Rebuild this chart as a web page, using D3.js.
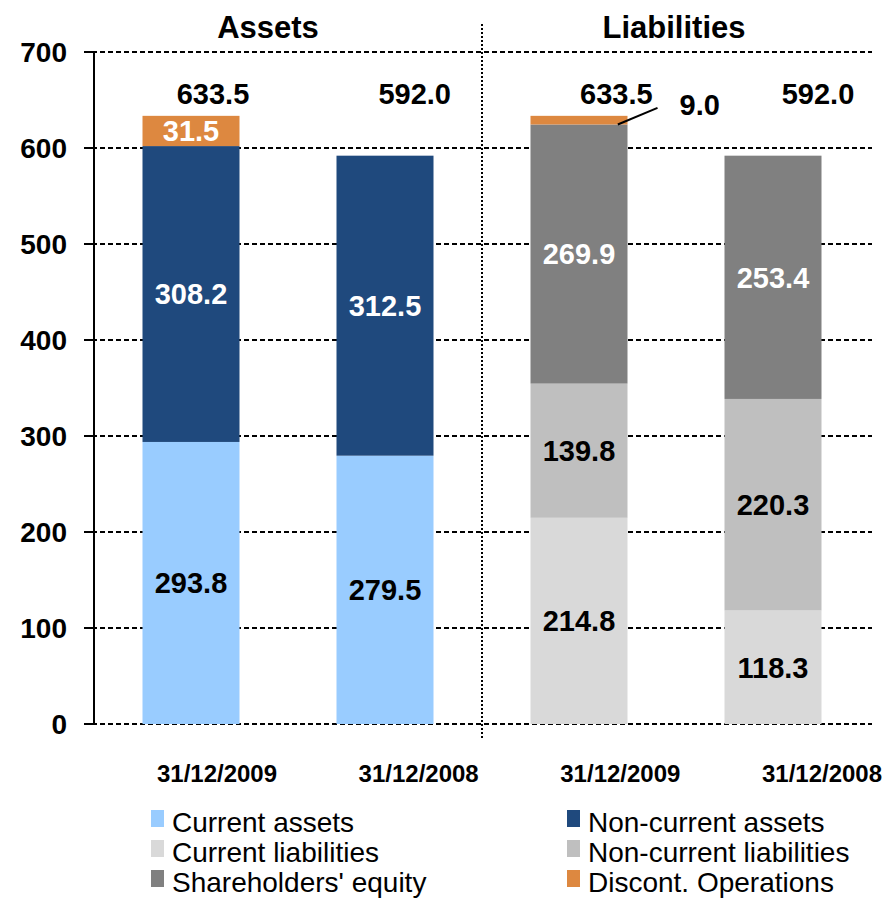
<!DOCTYPE html>
<html>
<head>
<meta charset="utf-8">
<script src="https://d3js.org/d3.v7.min.js"></script>
<style>
  body { margin: 0; background: #fff; }
  * { font-family: "Liberation Sans", Arial, sans-serif; }
  .tick-label { font-size: 28px; font-weight: bold; text-anchor: end; }
  .title { font-size: 31px; font-weight: bold; text-anchor: middle; }
  .date { font-size: 24px; font-weight: bold; text-anchor: middle; }
  .value { font-size: 29px; font-weight: bold; text-anchor: middle; }
  .legend { font-size: 28px; }
</style>
</head>
<body>
<script>
  // data
  var columns = ["a2009", "a2008", "l2009", "l2008"];
  var dates = ["31/12/2009", "31/12/2008", "31/12/2009", "31/12/2008"];
  var currentAssets = [293.8, 279.5, 0, 0];
  var nonCurrentAssets = [308.2, 312.5, 0, 0];
  var currentLiabilities = [0, 0, 214.8, 118.3];
  var nonCurrentLiabilities = [0, 0, 139.8, 220.3];
  var equity = [0, 0, 269.9, 253.4];
  var discont = [31.5, 0, 9.0, 0];
  var totals = [633.5, 592.0, 633.5, 592.0];
  var yTicks = [0, 100, 200, 300, 400, 500, 600, 700];
  var groupTitles = ["Assets", "Liabilities"];

  var series = [
    {key: "ca", name: "Current assets", values: currentAssets, color: "#99ccff", text: "#000"},
    {key: "cl", name: "Current liabilities", values: currentLiabilities, color: "#d9d9d9", text: "#000"},
    {key: "nca", name: "Non-current assets", values: nonCurrentAssets, color: "#1f497d", text: "#fff"},
    {key: "ncl", name: "Non-current liabilities", values: nonCurrentLiabilities, color: "#bfbfbf", text: "#000"},
    {key: "eq", name: "Shareholders' equity", values: equity, color: "#808080", text: "#fff"},
    {key: "do", name: "Discont. Operations", values: discont, color: "#dd8840", text: "#fff"}
  ];
  var legendOrder = ["ca", "nca", "cl", "ncl", "eq", "do"];

  var W = 885, H = 898;
  var svg = d3.select("body").append("svg")
    .attr("width", W).attr("height", H);

  var x = d3.scaleBand().domain(columns).range([94, 870])
    .paddingInner(0.5).paddingOuter(0.25);
  var y = d3.scaleLinear().domain([0, 700]).range([724, 52]);
  var labelX = d3.scalePoint().domain(columns).range([217, 822]);

  // gridlines
  svg.append("g").selectAll("line").data(yTicks).enter().append("line")
    .attr("x1", 84).attr("x2", 872)
    .attr("y1", d => y(d)).attr("y2", d => y(d))
    .attr("stroke", "#000").attr("stroke-width", 2)
    .attr("stroke-dasharray", "5,3");

  // stacked bars
  var rows = columns.map((c, i) => {
    var r = {col: c};
    series.forEach(s => r[s.key] = s.values[i]);
    return r;
  });
  var stack = d3.stack().keys(series.map(s => s.key))(rows);

  stack.forEach((layer, li) => {
    var s = series[li];
    layer.forEach((d, i) => {
      if (s.values[i] <= 0) return;
      svg.append("rect")
        .attr("x", x(columns[i]))
        .attr("width", x.bandwidth())
        .attr("y", y(d[1]))
        .attr("height", y(d[0]) - y(d[1]))
        .attr("fill", s.color);
    });
  });

  // segment labels
  stack.forEach((layer, li) => {
    var s = series[li];
    layer.forEach((d, i) => {
      var v = s.values[i];
      if (v <= 0) return;
      if (v < 20) {
        // small segment: label outside with leader line
        var x0 = x(columns[i]) + x.bandwidth() * 0.9;
        var y0 = y(d[0]);
        var x1 = x(columns[i]) + x.bandwidth() + 30;
        var y1 = y(d[1]) - 8;
        svg.append("line")
          .attr("x1", x0).attr("y1", y0).attr("x2", x1).attr("y2", y1)
          .attr("stroke", "#000").attr("stroke-width", 2);
        svg.append("text").attr("class", "value")
          .attr("x", x1 + 22).attr("y", y1 + 7)
          .style("text-anchor", "start")
          .text(v.toFixed(1));
        return;
      }
      svg.append("text").attr("class", "value")
        .attr("x", x(columns[i]) + x.bandwidth() / 2)
        .attr("y", y((d[0] + d[1]) / 2))
        .attr("dy", "0.36em")
        .attr("fill", s.text)
        .text(v.toFixed(1));
    });
  });

  // totals
  svg.append("g").selectAll("text").data(totals).enter().append("text")
    .attr("class", "value")
    .attr("x", (d, i) => labelX(columns[i]) - 4)
    .attr("y", y(d3.max(totals)) - 12)
    .text(d => d.toFixed(1));

  // y axis
  svg.append("line")
    .attr("x1", 94).attr("x2", 94).attr("y1", y(700)).attr("y2", y(0))
    .attr("stroke", "#000").attr("stroke-width", 2);
  svg.append("g").selectAll("line").data(yTicks).enter().append("line")
    .attr("x1", 84).attr("x2", 94)
    .attr("y1", d => y(d)).attr("y2", d => y(d))
    .attr("stroke", "#000").attr("stroke-width", 2);
  svg.append("g").selectAll("text").data(yTicks).enter().append("text")
    .attr("class", "tick-label")
    .attr("x", 67).attr("y", d => y(d)).attr("dy", "0.36em")
    .text(d => d);

  // divider between assets and liabilities
  var divX = (x(columns[1]) + x.bandwidth() + x(columns[2])) / 2;
  svg.append("line")
    .attr("x1", divX).attr("x2", divX).attr("y1", 24).attr("y2", 740)
    .attr("stroke", "#000").attr("stroke-width", 2)
    .attr("stroke-dasharray", "2,2");

  // group titles
  svg.append("g").selectAll("text").data(groupTitles).enter().append("text")
    .attr("class", "title")
    .attr("x", (d, i) => i === 0 ? 268 : 674)
    .attr("y", 38)
    .text(d => d);

  // date labels
  svg.append("g").selectAll("text").data(dates).enter().append("text")
    .attr("class", "date")
    .attr("x", (d, i) => labelX(columns[i]))
    .attr("y", 782)
    .text(d => d);

  // legend
  var leg = svg.append("g");
  legendOrder.forEach((k, i) => {
    var s = series.find(e => e.key === k);
    var lx = i % 2 === 0 ? 151 : 567;
    var ly = 832 + Math.floor(i / 2) * 30;
    leg.append("rect")
      .attr("x", lx).attr("y", ly - 22).attr("width", 13).attr("height", 17)
      .attr("fill", s.color);
    leg.append("text").attr("class", "legend")
      .attr("x", lx + 21).attr("y", ly)
      .text(s.name);
  });
</script>
</body>
</html>
